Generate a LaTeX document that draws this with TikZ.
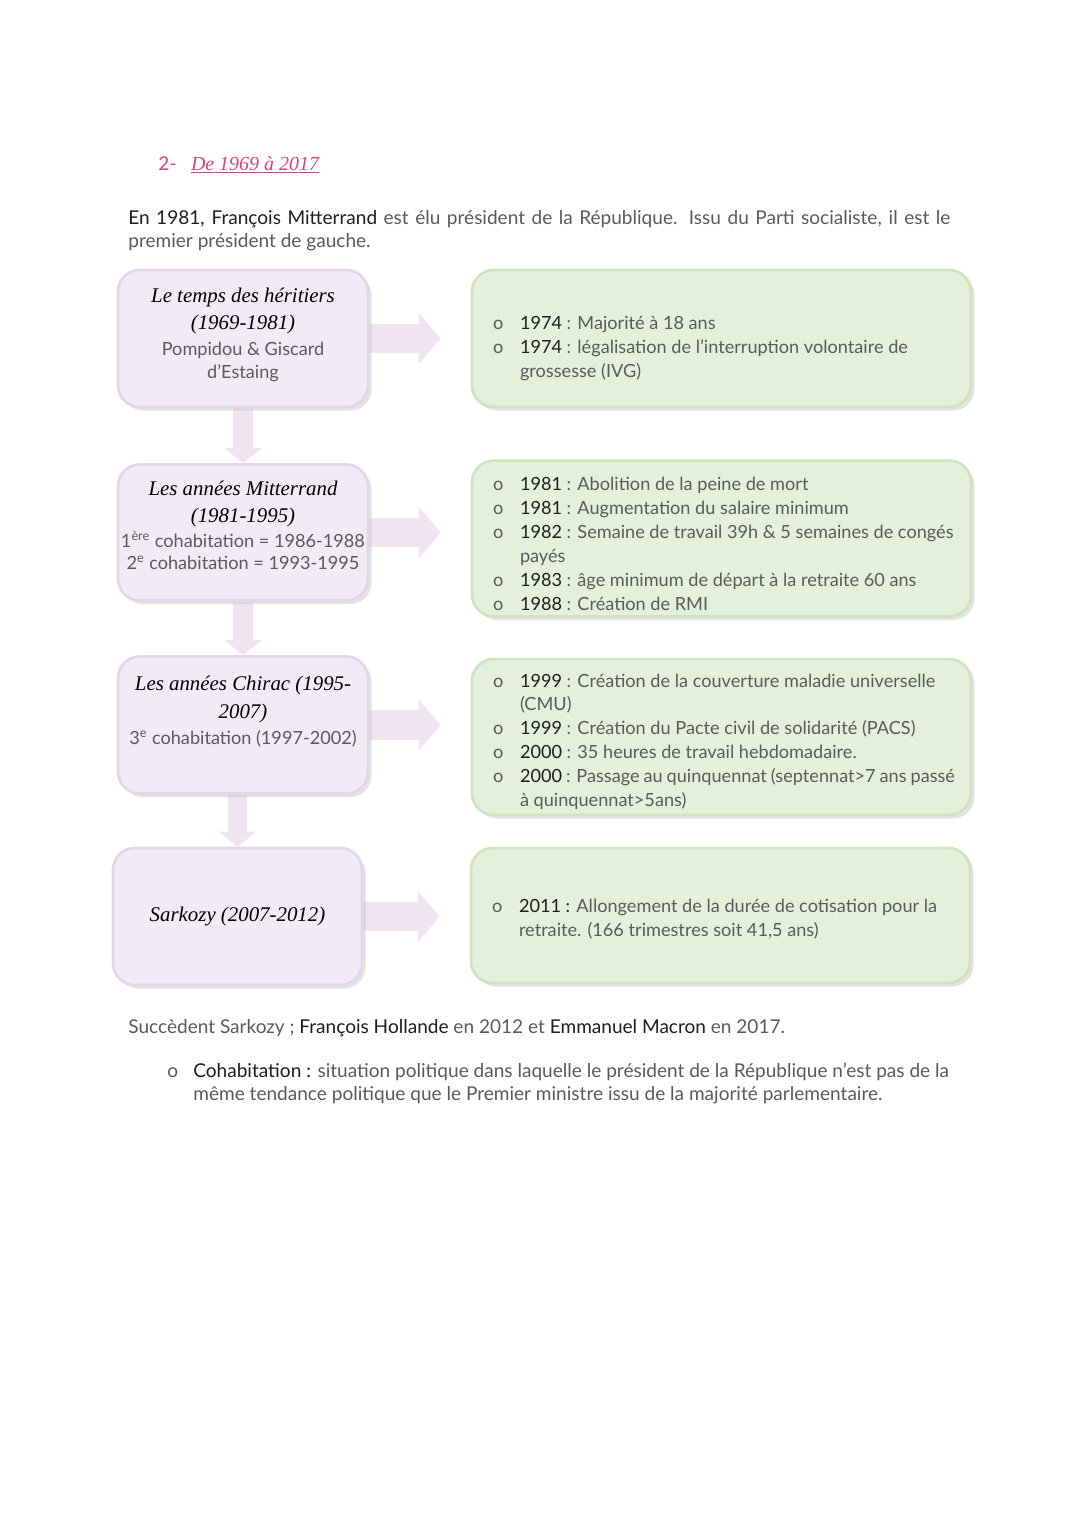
\documentclass[tikz,border=0pt]{standalone}
\usepackage{fontspec}
\setmainfont{Lato}
\newfontfamily\plume{Liberation Serif}
\usetikzlibrary{positioning,arrows.meta,shadows,backgrounds}

\definecolor{lila}{HTML}{F2EAF4}
\definecolor{lilabord}{HTML}{E4D6EA}
\definecolor{vert}{HTML}{E4F0DB}
\definecolor{vertbord}{HTML}{CFE3C1}
\definecolor{rose}{HTML}{EFE4EF}
\definecolor{framboise}{HTML}{D2457E}
\definecolor{gristexte}{HTML}{5A5A5A}
\definecolor{noirtexte}{HTML}{1E1E1E}

\newlength\pxl
\setlength\pxl{0.5512pt}

\newcommand{\an}[1]{\textcolor{noirtexte}{#1}}
\newcommand{\titre}[1]{{\plume\itshape\fontsize{11.5}{14}\selectfont\color{black}#1}}
% descend le contenu sans changer la taille de la boite
\newcommand{\baisse}[2]{\raisebox{-#1}[\height][\depth]{#2}}

\tikzset{
  periode/.style={draw=lilabord, line width=1.5pt, fill=lila, rounded corners=12pt,
    minimum width=250\pxl, minimum height=137\pxl, align=center, text=gristexte,
    font=\fontsize{10}{12.3}\selectfont, inner xsep=1.5pt,
    drop shadow={shadow xshift=2pt, shadow yshift=-2pt, fill=black!22}},
  faits/.style={draw=vertbord, line width=1.5pt, fill=vert, rounded corners=12pt,
    minimum width=499\pxl, text=gristexte, font=\fontsize{10}{13.2}\selectfont,
    drop shadow={shadow xshift=2pt, shadow yshift=-2pt, fill=black!22}},
  flecheh/.style={line width=16.5pt, draw=rose, shorten >=16.5pt,
    -{Triangle[width=27.5pt,length=12pt]}},
  flechev/.style={line width=11pt, draw=rose, -{Triangle[width=20.4pt,length=8.3pt]}},
  texte/.style={inner sep=0pt, text=gristexte, font=\fontsize{10.5}{12.7}\selectfont}
}

\begin{document}
\begin{tikzpicture}[x=0.5512pt, y=-0.5512pt]
\useasboundingbox (0,0) rectangle (1080,1527);

% titre de la partie
\node[texte, anchor=west, text=framboise] (soustitre) at (158,165)
  {2-\hspace{8pt}\underline{\plume\itshape\fontsize{11}{13}\selectfont De 1969 à 2017}};

\node[texte, anchor=north west, text width=822\pxl, align=justify] (intro) at (128,210)
  {\an{En 1981, François Mitterrand} est élu président de la République. Issu du Parti socialiste, il est le\linebreak
   premier président de gauche.};

% les periodes
\node[periode] (p1) at (243,338.5)
  {\titre{Le temps des héritiers}\\[3pt] \titre{(1969-1981)}\\[2pt] Pompidou \& Giscard\\ d’Estaing\\[-6pt]};
\node[periode, minimum height=136\pxl] (p2) at (243,532.5)
  {\titre{Les années Mitterrand}\\[3pt] \titre{(1981-1995)}\\[1pt]
   1\textsuperscript{ère} cohabitation = 1986-1988\\ 2\textsuperscript{e} cohabitation = 1993-1995\\[-4pt]};
\node[periode, minimum height=137\pxl] (p3) at (243,725)
  {\titre{Les années Chirac (1995-}\\[3pt] \titre{2007)}\\[2pt]
   3\textsuperscript{e} cohabitation (1997-2002)\\[4pt]};
\node[periode, minimum width=249\pxl] (p4) at (237.5,916.5)
  {\titre{Sarkozy (2007-2012)}};

% les faits
\node[faits, minimum height=137\pxl] (f1) at (721.5,338.5)
  {\baisse{5.5pt}{\begin{tabular}{@{}p{32\pxl}@{}p{435\pxl}@{}}
   \hspace{5\pxl}o & \an{1974} : Majorité à 18 ans\\
   \hspace{5\pxl}o & \an{1974} : légalisation de l’interruption volontaire de\\
   & grossesse (IVG)
   \end{tabular}}};
\node[faits, minimum height=149\pxl] (f2) at (721.5,538.5)
  {\baisse{3.9pt}{\begin{tabular}{@{}p{32\pxl}@{}p{435\pxl}@{}}
   \hspace{5\pxl}o & \an{1981} : Abolition de la peine de mort\\
   \hspace{5\pxl}o & \an{1981} : Augmentation du salaire minimum\\
   \hspace{5\pxl}o & \an{1982} : Semaine de travail 39h \& 5 semaines de congés\\
   & payés\\
   \hspace{5\pxl}o & \an{1983} : âge minimum de départ à la retraite 60 ans\\
   \hspace{5\pxl}o & \an{1988} : Création de RMI
   \end{tabular}}};
\node[faits, minimum height=146\pxl] (f3) at (721.5,737)
  {\baisse{2.8pt}{\begin{tabular}{@{}p{32\pxl}@{}p{435\pxl}@{}}
   \hspace{5\pxl}o & \an{1999} : Création de la couverture maladie universelle\\
   & (CMU)\\
   \hspace{5\pxl}o & \an{1999} : Création du Pacte civil de solidarité (PACS)\\
   \hspace{5\pxl}o & \an{2000} : 35 heures de travail hebdomadaire.\\
   \hspace{5\pxl}o & \an{2000} : Passage au quinquennat (septennat>7 ans passé\\
   & à quinquennat>5ans)
   \end{tabular}}};
\node[faits, minimum height=135\pxl] (f4) at (720.5,915.5)
  {\baisse{2.2pt}{\begin{tabular}{@{}p{32\pxl}@{}p{435\pxl}@{}}
   \hspace{5\pxl}o & \an{2011 :} Allongement de la durée de cotisation pour la\\
   & retraite. (166 trimestres soit 41,5 ans)
   \end{tabular}}};

% les fleches
\begin{pgfonlayer}{background}
\foreach \i in {1,...,4}
  \draw[flecheh] (p\i) -- (f\i.west |- p\i);
\draw[flechev] (p1) -- (p2);
\draw[flechev] (p2) -- (p3);
\draw[flechev] (p4.north |- p3.south) -- (p4.north);
\end{pgfonlayer}

% apres
\node[texte, anchor=west] (suite) at (128,1028)
  {Succèdent Sarkozy ; \an{François Hollande} en 2012 et \an{Emmanuel Macron} en 2017.};
\node[texte, anchor=north west] (defi) at (160,1061)
  {\begin{tabular}{@{}p{33\pxl}@{}p{757\pxl}@{}}
   \hspace{7\pxl}o & \an{Cohabitation :} situation politique dans laquelle le président de la République n’est pas de la\\
   & même tendance politique que le Premier ministre issu de la majorité parlementaire.
   \end{tabular}};
\end{tikzpicture}
\end{document}
